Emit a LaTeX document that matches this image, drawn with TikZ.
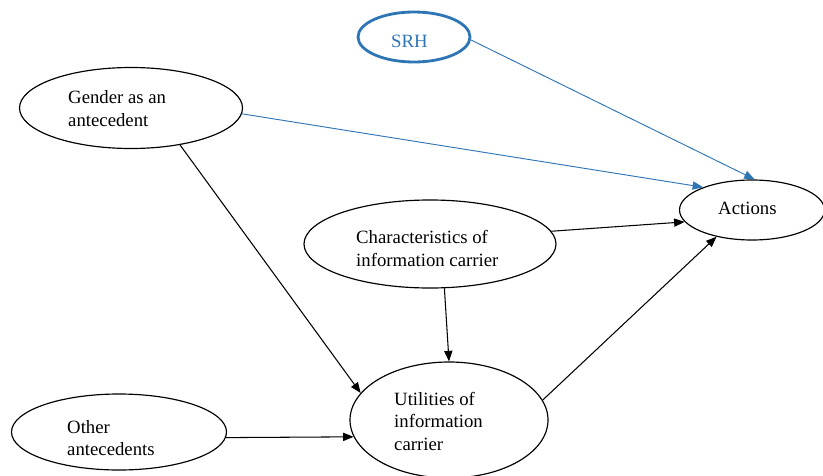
\documentclass[tikz,border=0pt]{standalone}
\usepackage{fontspec}
\setmainfont{Liberation Serif}
\usetikzlibrary{arrows.meta,shapes.geometric,positioning}
\definecolor{srhblue}{RGB}{46,117,182}

\begin{document}
\begin{tikzpicture}
        [x=0.03cm, y=-0.03cm,
         every node/.style={font=\fontsize{16}{19.2}\selectfont},
         oval/.style={draw, ellipse, line width=1pt, inner sep=0pt},
         txt/.style={align=left, anchor=west, inner sep=0pt},
         link/.style={-{Triangle[length=9pt,width=7pt]}, line width=0.9pt},
         bluelink/.style={link, srhblue, line width=0.8pt}]
        %\draw[help lines] (0,0) grid (823,475);
        \useasboundingbox (0,0) rectangle (823,475);
        \node[oval, srhblue, line width=2.4pt, minimum width=3.36cm, minimum height=1.5cm] (srh) at (414,37) {};
        \node[oval, minimum width=6.69cm, minimum height=2.43cm] (gender) at (131,108) {};
        \node[oval, minimum width=4.35cm, minimum height=1.8cm] (actions) at (752,210) {};
        \node[oval, minimum width=7.56cm, minimum height=2.64cm] (charact) at (430,244) {};
        \node[oval, minimum width=5.94cm, minimum height=3.48cm] (util) at (449,420) {};
        \node[oval, minimum width=6.45cm, minimum height=2.28cm] (other) at (119,432) {};
        \node[txt, text=srhblue] (srhtext) at (391,41) {SRH};
        \node[txt] (gendertext) at (68,108.5) {Gender as an\\antecedent};
        \node[txt] (actionstext) at (718,208) {Actions};
        \node[txt] (characttext) at (356,248.5) {Characteristics of\\information carrier};
        \node[txt] (utiltext) at (394,421) {Utilities of\\information\\carrier};
        \node[txt] (othertext) at (67,438) {Other\\antecedents};
        \draw[bluelink] (srh.-3) -- (actions.85);
        \draw[bluelink] (gender.-3) -- (actions.155);
        \draw[link] (gender.-37) -- (util.163);
        \draw[link] (charact.6) -- (actions.190);
        \draw[link] (charact.-72) -- (util.north);
        \draw[link] (other.-3) -- (util.190);
        \draw[link] (util.12) -- (actions.-143);
      \end{tikzpicture}
\end{document}
